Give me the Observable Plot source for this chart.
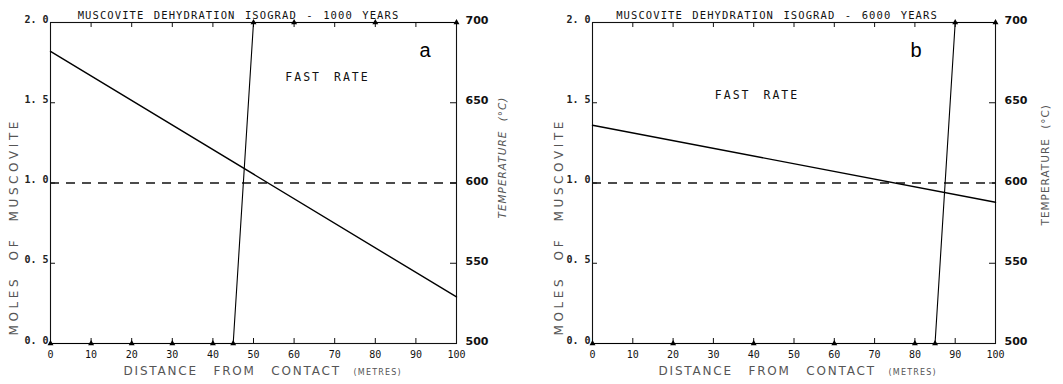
<!DOCTYPE html>
<html>
<head>
<meta charset="utf-8">
<script src="https://cdn.jsdelivr.net/npm/d3@7"></script>
<script src="https://cdn.jsdelivr.net/npm/@observablehq/plot@0.6"></script>
<style>
  html, body { margin: 0; padding: 0; background: #fff; }
  #wrap { position: relative; width: 1063px; height: 384px; overflow: hidden; }
  .panel { position: absolute; top: 0; }
  svg { overflow: visible; }
</style>
</head>
<body>
<div id="wrap">
  <div class="panel" id="pa" style="left:0px"></div>
  <div class="panel" id="pb" style="left:530px"></div>
</div>
<script>
// ---- data ----
const xTicks = [0, 10, 20, 30, 40, 50, 60, 70, 80, 90, 100];
const molesTicks = [0, 0.5, 1.0, 1.5, 2.0];
const tempTicks = [500, 550, 600, 650, 700];

// panel a (1000 years)
const molesA_x = [0, 100];
const molesA_y = [1.82, 0.29];
const tempA_x = [0, 10, 20, 30, 40, 45, 50, 60, 80, 100];
const tempA_t = [500, 500, 500, 500, 500, 500, 700, 700, 700, 700];

// panel b (6000 years)
const molesB_x = [0, 100];
const molesB_y = [1.36, 0.88];
const tempB_x = [0, 20, 40, 60, 80, 85, 90, 100];
const tempB_t = [500, 500, 500, 500, 500, 500, 700, 700];

const isogradMoles = [1.0];

const titles = ["MUSCOVITE DEHYDRATION ISOGRAD - 1000 YEARS", "MUSCOVITE DEHYDRATION ISOGRAD - 6000 YEARS"];
const letters = ["a", "b"];
const rateLabel = "FAST RATE";
const xLabel = "DISTANCE FROM CONTACT";
const xUnit = "(METRES)";
const yLabel = "MOLES OF MUSCOVITE";
const y2Label = "TEMPERATURE (\u00b0C)";

const toMoles = t => (t - 500) / 100;

// letter/word spacing applied after render (Plot.text has no such option)
const spacing = new Map([
  [titles[0], ["1.1px", "2px"]],
  [titles[1], ["1.1px", "2px"]],
  [rateLabel, ["2px", "4px"]],
  [xLabel, ["1.8px", "10px"]],
  [xUnit, ["1.2px", "0px"]],
  [yLabel, ["3.6px", "8px"]],
  [y2Label, ["1px", "5px"]]
]);

function panel(o) {
  const moles = o.mx.map((x, i) => ({x, y: o.my[i]}));
  const temp = o.tx.map((x, i) => ({x, t: o.tt[i]}));
  const H = 384, mt = 22, mb = 41;
  const fw = o.width - o.ml - o.mr;
  const svg = Plot.plot({
    width: o.width, height: H,
    marginLeft: o.ml, marginRight: o.mr, marginTop: mt, marginBottom: mb,
    x: {domain: [0, 100], axis: null},
    y: {domain: [0, 2], axis: null},
    style: {background: "transparent", color: "#111"},
    marks: [
      Plot.frame({stroke: "#111", strokeWidth: 1.1}),
      // bottom/top x ticks (inward) + labels
      Plot.tickX(xTicks, {x: d => d, insetTop: H - mt - mb - 5, stroke: "#111"}),
      Plot.tickX(xTicks, {x: d => d, insetBottom: H - mt - mb - 5, stroke: "#111"}),
      Plot.text(xTicks, {x: d => d, frameAnchor: "bottom", dy: 7, lineAnchor: "top",
        text: d => String(d), fontFamily: "DejaVu Sans Mono", fontSize: 10, fill: "#111"}),
      // left y ticks (inward) + labels
      Plot.tickY(molesTicks, {y: d => d, insetRight: fw - 5, stroke: "#111"}),
      Plot.text(molesTicks, {y: d => d, frameAnchor: "left", dx: -2, dy: -3, textAnchor: "end",
        text: d => d.toFixed(1).replace(".", ". "), fontFamily: "DejaVu Sans Mono", fontSize: 10,
        fontWeight: "bold", fill: "#222"}),
      // right y ticks (temperature) + labels
      Plot.tickY(tempTicks, {y: toMoles, insetLeft: fw - 6, stroke: "#111"}),
      Plot.text(tempTicks, {y: toMoles, frameAnchor: "right", dx: 9, dy: -2, textAnchor: "start",
        text: d => String(d), fontFamily: "DejaVu Sans", fontWeight: "bold", fontSize: 11, fill: "#111"}),
      // isograd dashed line
      Plot.ruleY(isogradMoles, {stroke: "#111", strokeWidth: 1.3, strokeDasharray: "9,7"}),
      // moles line
      Plot.line(moles, {x: "x", y: "y", stroke: "#000", strokeWidth: 1.4}),
      // temperature profile
      Plot.line(temp, {x: "x", y: d => toMoles(d.t), stroke: "#000", strokeWidth: 1.1}),
      Plot.dot(temp, {x: "x", y: d => toMoles(d.t), symbol: "triangle", r: 2.2, fill: "#000", stroke: null}),
      // titles / labels
      Plot.text([o.title], {frameAnchor: "top", dx: o.titleDx, dy: -11, fontFamily: "DejaVu Sans Mono",
        fontSize: 10.5, fill: "#111", text: d => d}),
      Plot.text([o.letter], {frameAnchor: "top-right", dx: o.letterDx, dy: 20, fontFamily: "Liberation Sans",
        fontSize: 20, fill: "#000", text: d => d}),
      Plot.text([rateLabel], {frameAnchor: "top", dx: o.rateDx, dy: o.rateDy, fontFamily: "DejaVu Sans Mono",
        fontSize: 11.5, fill: "#111", text: d => d}),
      Plot.text([xLabel], {frameAnchor: "bottom-left", dx: o.xlDx, dy: 31, textAnchor: "start",
        fontFamily: "DejaVu Sans", fontSize: 12, fill: "#555", text: d => d}),
      Plot.text([xUnit], {frameAnchor: "bottom-left", dx: o.xuDx, dy: 31, textAnchor: "start",
        fontFamily: "DejaVu Sans", fontSize: 8, fill: "#555", text: d => d}),
      Plot.text([yLabel], {frameAnchor: "bottom-left", dx: o.ylDx, dy: -8, rotate: -90, textAnchor: "start",
        fontFamily: "DejaVu Sans", fontSize: 12, fill: "#555", text: d => d}),
      Plot.text([y2Label], {frameAnchor: "bottom-right", dx: o.y2Dx, dy: o.y2Dy, rotate: -90, textAnchor: "start",
        fontFamily: "DejaVu Sans", fontSize: 10.5, fontStyle: o.italic ? "italic" : "normal",
        fill: "#555", text: d => d})
    ]
  });
  d3.select(svg).selectAll("text").each(function() {
    const s = spacing.get(this.textContent);
    if (s) { this.style.letterSpacing = s[0]; this.style.wordSpacing = s[1]; }
  });
  return svg;
}

document.getElementById("pa").append(panel({
  width: 530, ml: 50, mr: 74,
  mx: molesA_x, my: molesA_y, tx: tempA_x, tt: tempA_t,
  title: titles[0], titleDx: -15, letter: letters[0], letterDx: -26,
  rateDx: 74, rateDy: 50, xlDx: 73, xuDx: 303, ylDx: -33, y2Dx: 49, y2Dy: -125, italic: true
}));
document.getElementById("pb").append(panel({
  width: 533, ml: 62, mr: 68,
  mx: molesB_x, my: molesB_y, tx: tempB_x, tt: tempB_t,
  title: titles[1], titleDx: -17, letter: letters[1], letterDx: -74,
  rateDx: -37, rateDy: 68, xlDx: 66, xuDx: 296, ylDx: -30, y2Dx: 53, y2Dy: -118, italic: false
}));
</script>
</body>
</html>
